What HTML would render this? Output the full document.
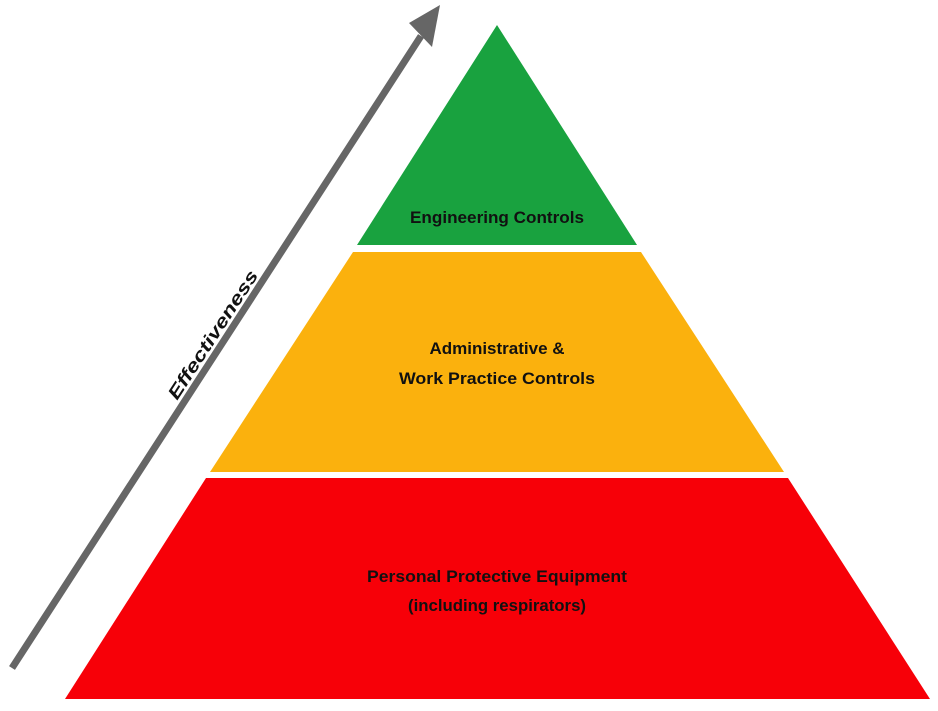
<!DOCTYPE html>
<html><head><style>
html,body{margin:0;padding:0;background:#fff;}
svg{display:block;}
text{font-family:"Liberation Sans",sans-serif;font-weight:bold;fill:#111;}
</style></head><body>
<svg width="938" height="711" viewBox="0 0 938 711">
<polygon points="497,25 637,245 357,245" fill="#19a23f"/>
<polygon points="353,252 641,252 784,472 210,472" fill="#fbb10d"/>
<polygon points="206,478 788,478 930,699 65,699" fill="#f70008"/>
<line x1="12" y1="668" x2="421" y2="36" stroke="#666" stroke-width="7"/>
<polygon points="440,5 432,47 409,23" fill="#666"/>
<text x="497" y="223" font-size="17" text-anchor="middle" textLength="174" lengthAdjust="spacingAndGlyphs">Engineering Controls</text>
<text x="497" y="354" font-size="17" text-anchor="middle">Administrative &amp;</text>
<text x="497" y="384" font-size="17" text-anchor="middle" textLength="196" lengthAdjust="spacingAndGlyphs">Work Practice Controls</text>
<text x="497" y="582" font-size="17" text-anchor="middle" textLength="260" lengthAdjust="spacingAndGlyphs">Personal Protective Equipment</text>
<text x="497" y="611" font-size="17" text-anchor="middle" textLength="178" lengthAdjust="spacingAndGlyphs">(including respirators)</text>
<text x="0" y="0" font-size="18" font-style="italic" text-anchor="middle" transform="translate(218,338) rotate(-57)" textLength="150" lengthAdjust="spacingAndGlyphs">Effectiveness</text>
</svg>
</body></html>
